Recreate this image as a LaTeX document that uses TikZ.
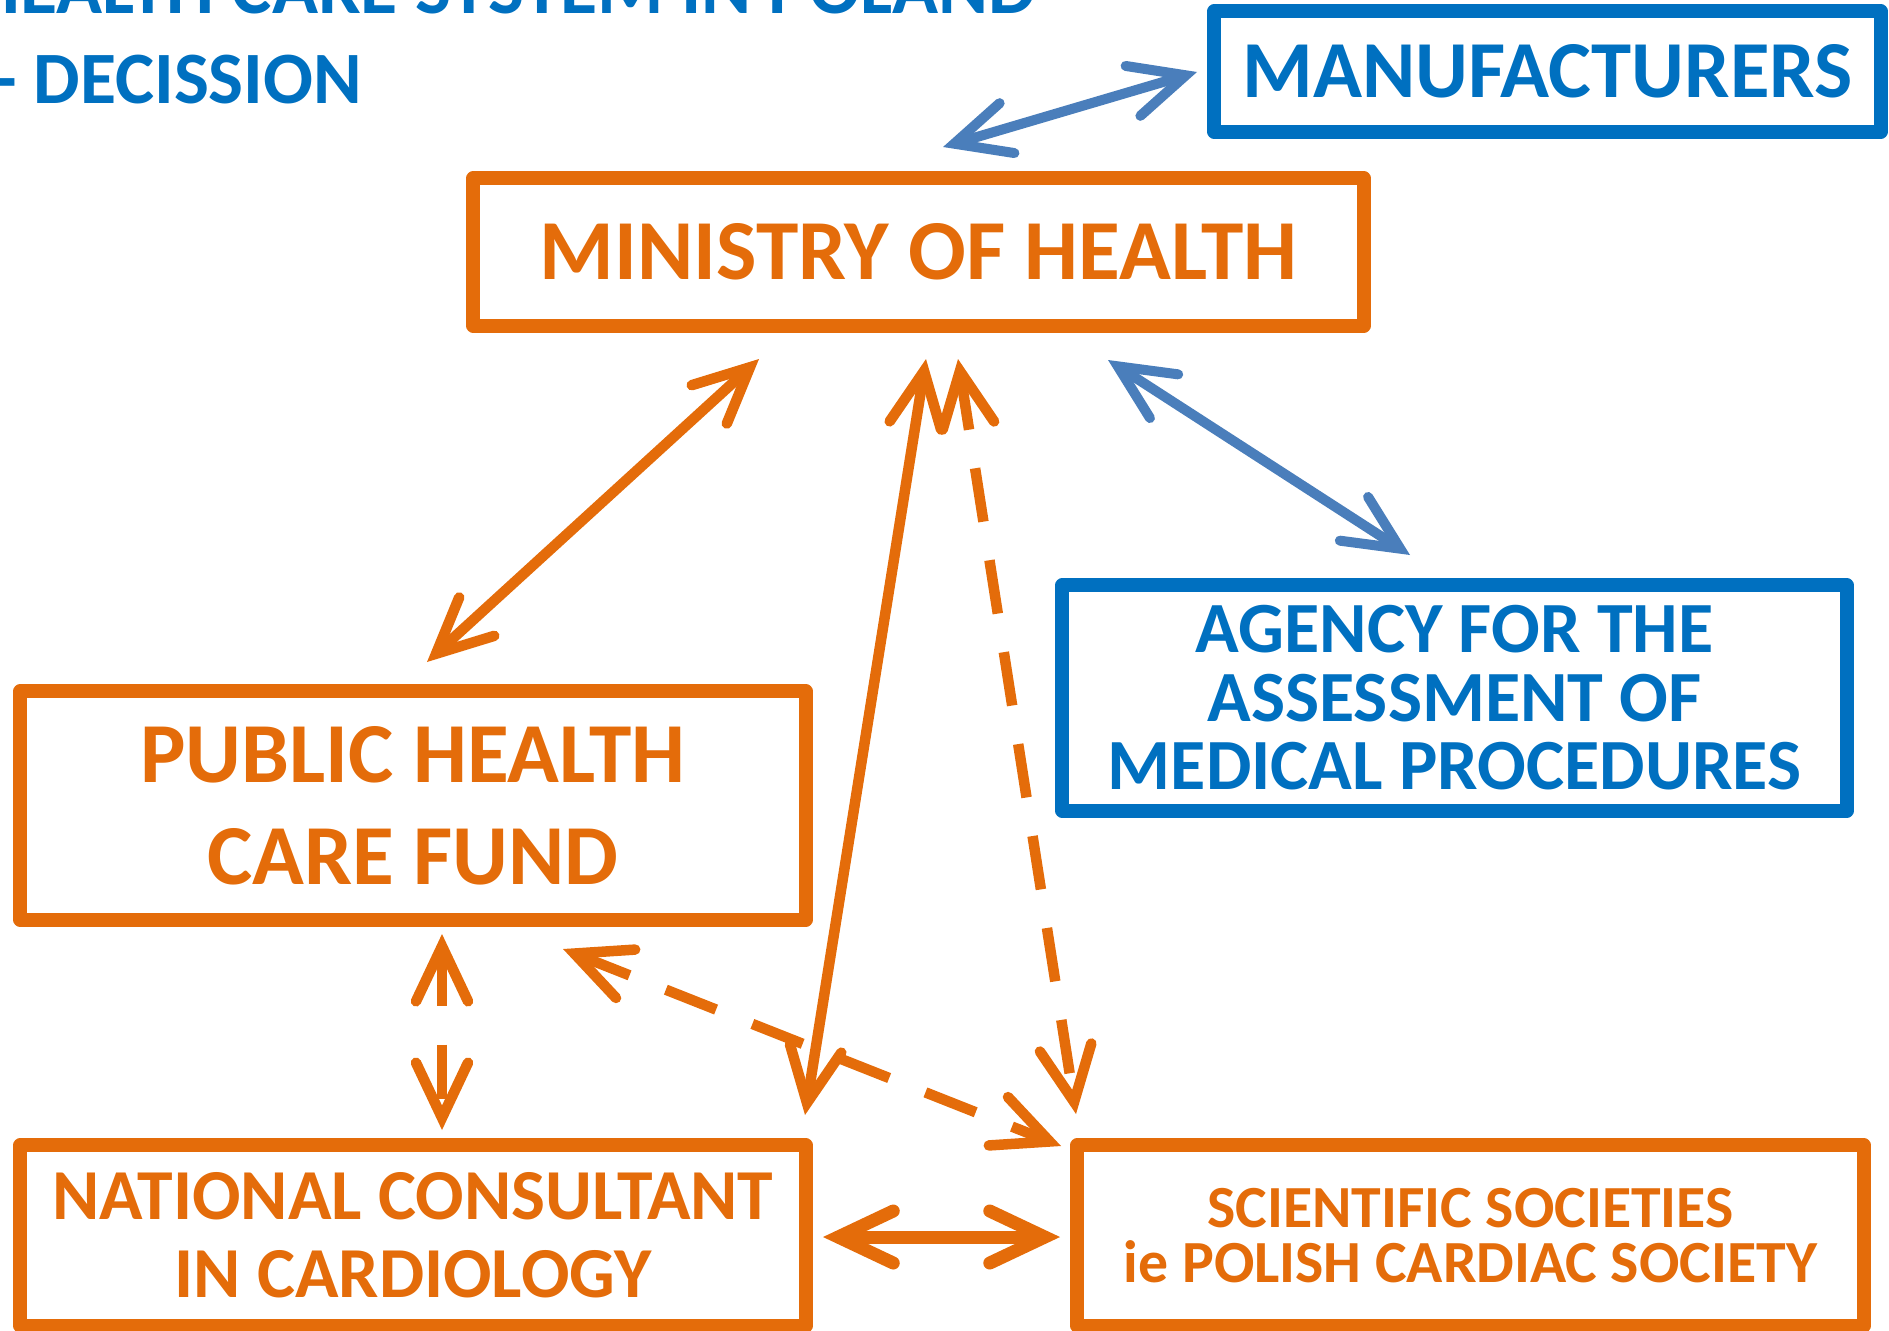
\documentclass[tikz,border=0pt]{standalone}
\usepackage{fontspec}
\setmainfont{Carlito}
\usetikzlibrary{arrows.meta,positioning}
\definecolor{ora}{HTML}{E46C0A}
\definecolor{blu}{HTML}{0070C0}
\definecolor{arblu}{HTML}{4A7EBB}
\tikzset{box/.style = {draw, line width=1.4mm, inner sep=0pt, outer sep=0pt, align=center, line join=round},
  orangebox/.style = {box, draw=ora, text=ora},
  bluebox/.style = {box, draw=blu, text=blu},
  link/.style = {line width=1.05mm, >={Straight Barb[length=5.5mm, width=5.2mm, line cap=round, line join=miter]}, <->},
  dashlink/.style = {link, dash pattern=on 5.4mm off 3.9mm}}

\begin{document}
\begin{tikzpicture}[x=0.01cm, y=-0.01cm]
        \useasboundingbox (0,0) rectangle (1889,1330);

        \node [anchor=base east, text=blu, font=\bfseries\fontsize{21.6}{26}\selectfont] (title) at (1049,14) {HEALTH CARE SYSTEM IN POLAND};
        \node [anchor=base west, text=blu, font=\bfseries\fontsize{21}{26}\selectfont] (decision) at (-18,103) {- DECISSION};

        \node [bluebox, minimum width=6.66cm, minimum height=1.2cm, font=\bfseries\fontsize{23}{27}\selectfont] (manu) at (1547.5,71.5) {MANUFACTURERS};
        \node [orangebox, minimum width=8.9cm, minimum height=1.47cm, font=\bfseries\fontsize{24.3}{29}\selectfont] (moh) at (918.5,252) {MINISTRY OF HEALTH};
        \node [orangebox, minimum width=7.85cm, minimum height=2.28cm, font=\bfseries\fontsize{24.3}{29}\selectfont] (fund) at (413,805.5) {PUBLIC HEALTH\\CARE FUND};
        \node [bluebox, minimum width=7.84cm, minimum height=2.25cm, font=\bfseries\fontsize{20.5}{19.5}\selectfont] (agency) at (1454.5,698) {AGENCY FOR THE\\ASSESSMENT OF\\MEDICAL PROCEDURES};
        \node [orangebox, minimum width=7.85cm, minimum height=1.8cm, font=\bfseries\fontsize{20.4}{22.2}\selectfont] (cons) at (413,1235.5) {NATIONAL CONSULTANT\\IN CARDIOLOGY};
        \node [orangebox, minimum width=7.86cm, minimum height=1.8cm, font=\bfseries\fontsize{17}{15.6}\selectfont] (soc) at (1470.5,1235.5) {SCIENTIFIC SOCIETIES\\ie POLISH CARDIAC SOCIETY};

        % arrow ends
        \coordinate (manu-w) at (1197,72);
        \coordinate (moh-ne) at (943,147);
        \coordinate (moh-sw) at (759,359);
        \coordinate (fund-n) at (427,662);
        \coordinate (moh-s1) at (926,359);
        \coordinate (cons-ne) at (805,1115);
        \coordinate (moh-s2) at (958,359);
        \coordinate (soc-nw) at (1076,1114);
        \coordinate (fund-se) at (563,949);
        \coordinate (soc-w) at (1061,1146);
        \coordinate (fund-s) at (442,934);
        \coordinate (cons-n) at (442,1130);
        \coordinate (cons-e) at (823,1237);
        \coordinate (soc-e) at (1060,1237);
        \coordinate (moh-se) at (1108,360);
        \coordinate (agency-n) at (1410,555);

        \draw [link, arblu, line width=1mm] (moh-ne) -- (manu-w);
        \draw [link, arblu, line width=1mm] (moh-se) -- (agency-n);
        \draw [link, ora] (moh-sw) -- (fund-n);
        \draw [link, ora] (moh-s1) -- (cons-ne);
        \draw [dashlink, ora] (moh-s2) -- (soc-nw);
        \draw [dashlink, ora] (fund-se) -- (soc-w);
        \draw [dashlink, ora] (fund-s) -- (cons-n);
        \draw [link, ora, line width=1.3mm] (cons-e) -- (soc-e);
    \end{tikzpicture}
\end{document}
